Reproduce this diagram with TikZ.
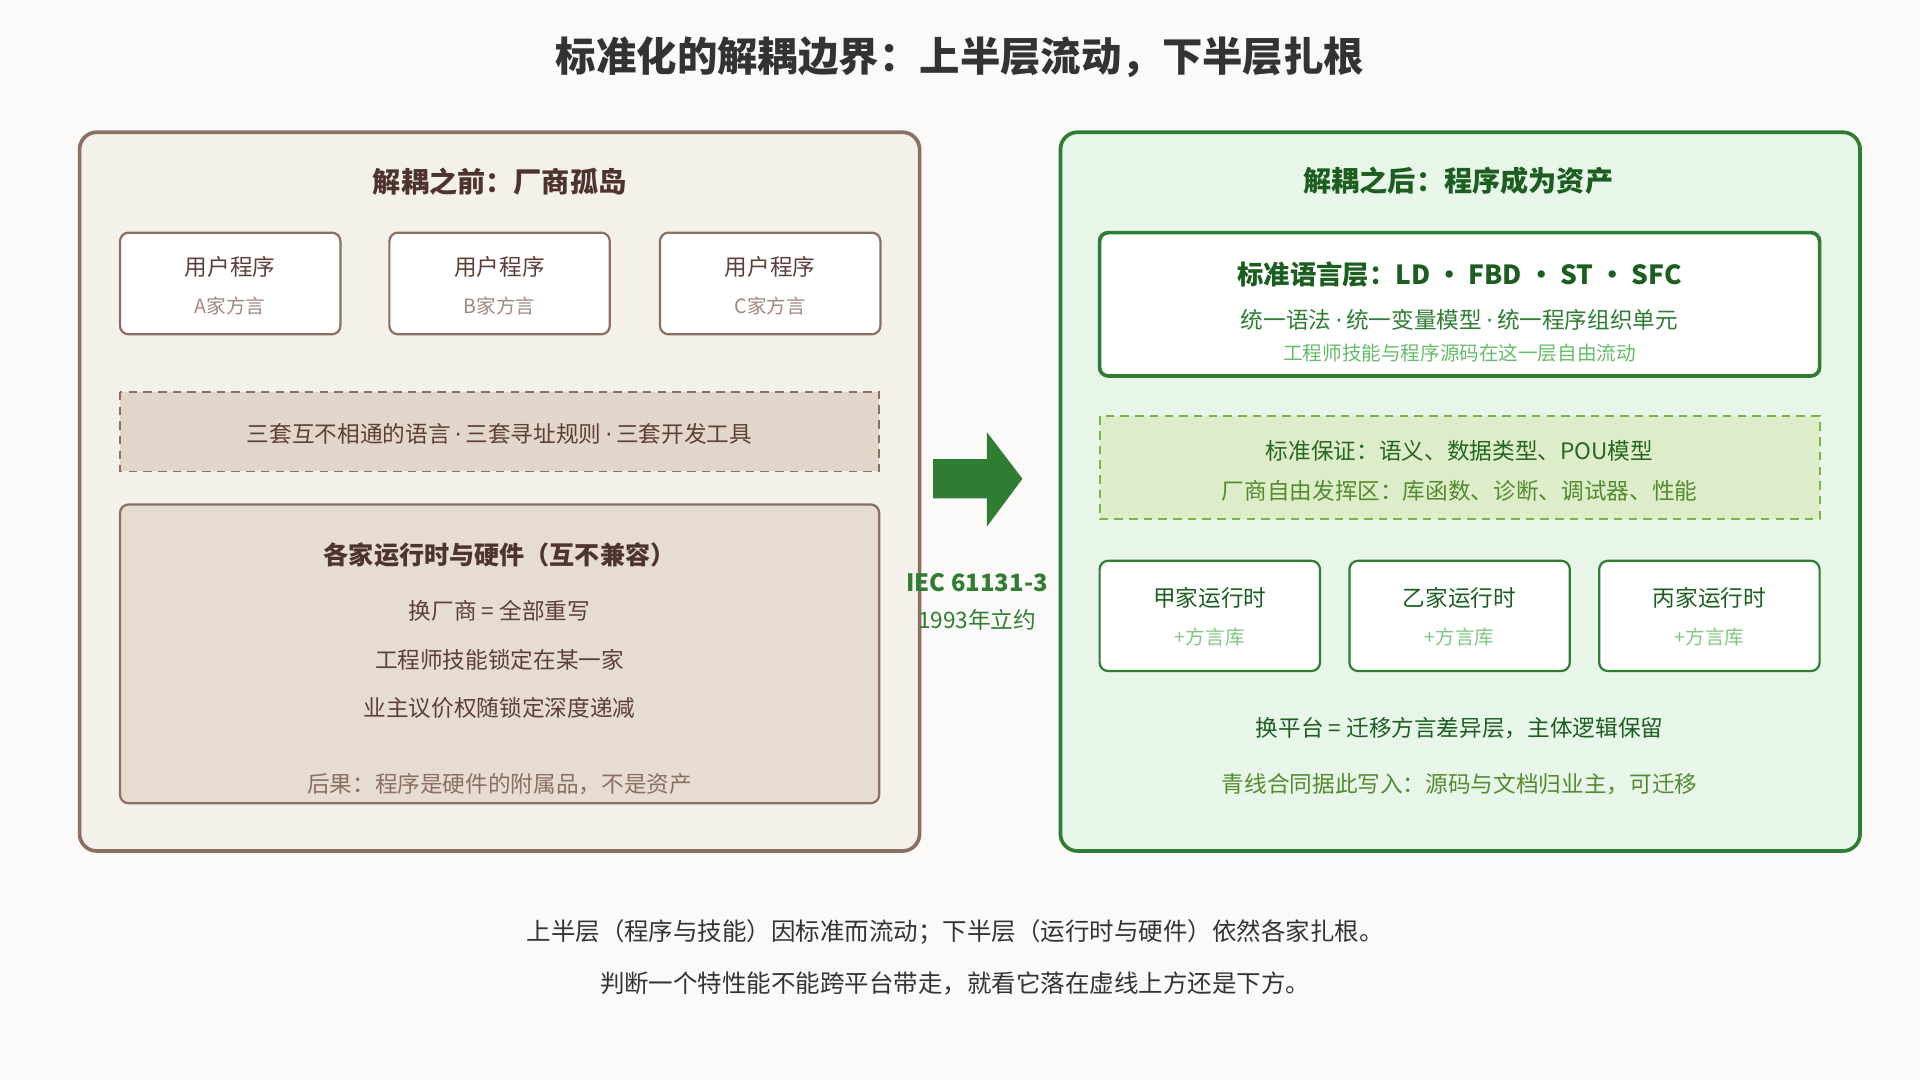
\documentclass[tikz,border=0pt]{standalone}
\usepackage{fontspec}
\setmainfont{Noto Sans CJK SC}
\usetikzlibrary{positioning}
\definecolor{bgc}{HTML}{FBFAF8}
\definecolor{brn}{HTML}{8B6F63}
\definecolor{brndark}{HTML}{4E342E}
\definecolor{brntxt}{HTML}{5D4037}
\definecolor{brnlight}{HTML}{A1887F}
\definecolor{brnpanel}{HTML}{F4F0EA}
\definecolor{brndash}{HTML}{E2D6CA}
\definecolor{brnbox}{HTML}{E6DCD1}
\definecolor{grn}{HTML}{2E7D32}
\definecolor{grndark}{HTML}{1B5E20}
\definecolor{grnlight}{HTML}{66BB6A}
\definecolor{grnpanel}{HTML}{E8F5E9}
\definecolor{grndash}{HTML}{DDEDC9}
\definecolor{grnline}{HTML}{7CB342}
\definecolor{grnmid}{HTML}{558B2F}
\definecolor{grnpale}{HTML}{81C784}
\newcommand{\md}{\,{\fontspec{DejaVu Sans}·}\,}
\begin{document}
\begin{tikzpicture}[x=1pt,y=-1pt,
		panel_left/.style={draw=brn,line width=3pt,fill=brnpanel,rounded corners=14pt},
		panel_right/.style={draw=grn,line width=3pt,fill=grnpanel,rounded corners=14pt},
		box_left/.style={draw=brn,line width=1.8pt,fill=white,rounded corners=7pt},
		box_right/.style={draw=grn,line width=1.8pt,fill=white,rounded corners=7pt},
		big_font/.style={font=\fontsize{23}{27}\selectfont\bfseries},
		mid_font/.style={font=\fontsize{18.5}{22}\selectfont},
		small_font/.style={font=\fontsize{16}{20}\selectfont}]

	\fill[bgc] (0,0) rectangle (1568,882);
	\useasboundingbox (0,0) rectangle (1568,882);

	\node[font=\fontsize{33}{38}\selectfont\bfseries,text=black!80] (title) at (784,47) {标准化的解耦边界：上半层流动，下半层扎根};

	% left panel
	\draw[panel_left] (65,108) rectangle (751,695);
	\node[big_font,text=brndark] (lt) at (408,148) {解耦之前：厂商孤岛};
	\foreach \x/\n/\v in {98/a/A,318/b/B,539/c/C}{
		\draw[box_left] (\x,190) rectangle ++(180,83);
		\node[mid_font,text=brntxt] (prog\n) at (\x+90,218) {用户程序};
		\node[small_font,text=brnlight] (dial\n) at (\x+90,250) {\v 家方言};
	}
	\draw[draw=brn,line width=1.5pt,dash pattern=on 7pt off 5pt,fill=brndash] (98,320) rectangle (718,385);
	\node[mid_font,text=brntxt] (three) at (408,354) {三套互不相通的语言\md 三套寻址规则\md 三套开发工具};
	\draw[box_left,fill=brnbox] (98,412) rectangle (718,656);
	\node[font=\fontsize{20.5}{24}\selectfont\bfseries,text=brndark] (rt) at (408,453) {各家运行时与硬件（互不兼容）};
	\node[mid_font,text=brntxt] (l1) at (408,499) {换厂商 = 全部重写};
	\node[mid_font,text=brntxt] (l2) at (408,539) {工程师技能锁定在某一家};
	\node[mid_font,text=brntxt] (l3) at (408,578) {业主议价权随锁定深度递减};
	\node[mid_font,text=brn] (l4) at (408,640) {后果：程序是硬件的附属品，不是资产};

	% arrow
	\fill[grn] (762,375) -- (806,375) -- (806,353) -- (835,391) -- (806,430) -- (806,407) -- (762,407) -- cycle;
	\node[font=\fontsize{19.5}{22}\selectfont\bfseries,text=grn] (iec) at (798,476) {IEC 61131-3};
	\node[mid_font,text=grn] (year) at (798,506) {1993年立约};

	% right panel
	\draw[panel_right] (866,108) rectangle (1519,695);
	\node[big_font,text=grndark] (rtt) at (1191,148) {解耦之后：程序成为资产};
	\draw[draw=grn,line width=3pt,fill=white,rounded corners=7pt] (898,190) rectangle (1486,307);
	\node[font=\fontsize{21.5}{25}\selectfont\bfseries,text=grndark] (std) at (1192,224) {标准语言层：LD • FBD • ST • SFC};
	\node[mid_font,text=grn] (s1) at (1192,261) {统一语法\md 统一变量模型\md 统一程序组织单元};
	\node[small_font,text=grnlight] (s2) at (1192,288) {工程师技能与程序源码在这一层自由流动};
	\draw[draw=grnline,line width=1.5pt,dash pattern=on 7pt off 5pt,fill=grndash] (898,340) rectangle (1486,424);
	\node[mid_font,text=grndark!80!grnmid] (g1) at (1192,368) {标准保证：语义、数据类型、POU模型};
	\node[mid_font,text=grnmid] (g2) at (1192,401) {厂商自由发挥区：库函数、诊断、调试器、性能};
	\foreach \x/\n/\v in {898/a/甲,1102/b/乙,1306/c/丙}{
		\draw[box_right] (\x,458) rectangle ++(180,90);
		\node[mid_font,text=grndark] (run\n) at (\x+90,488) {\v 家运行时};
		\node[small_font,text=grnpale] (lib\n) at (\x+90,520) {+方言库};
	}
	\node[mid_font,text=grndark] (r1) at (1192,595) {换平台 = 迁移方言差异层，主体逻辑保留};
	\node[mid_font,text=grnmid] (r2) at (1192,640) {青线合同据此写入：源码与文档归业主，可迁移};

	% footer
	\node[font=\fontsize{20}{24}\selectfont,text=black!80] (f1) at (780,761) {上半层（程序与技能）因标准而流动；下半层（运行时与硬件）依然各家扎根。};
	\node[font=\fontsize{20}{24}\selectfont,text=black!80] (f2) at (780,803) {判断一个特性能不能跨平台带走，就看它落在虚线上方还是下方。};
\end{tikzpicture}
\end{document}
